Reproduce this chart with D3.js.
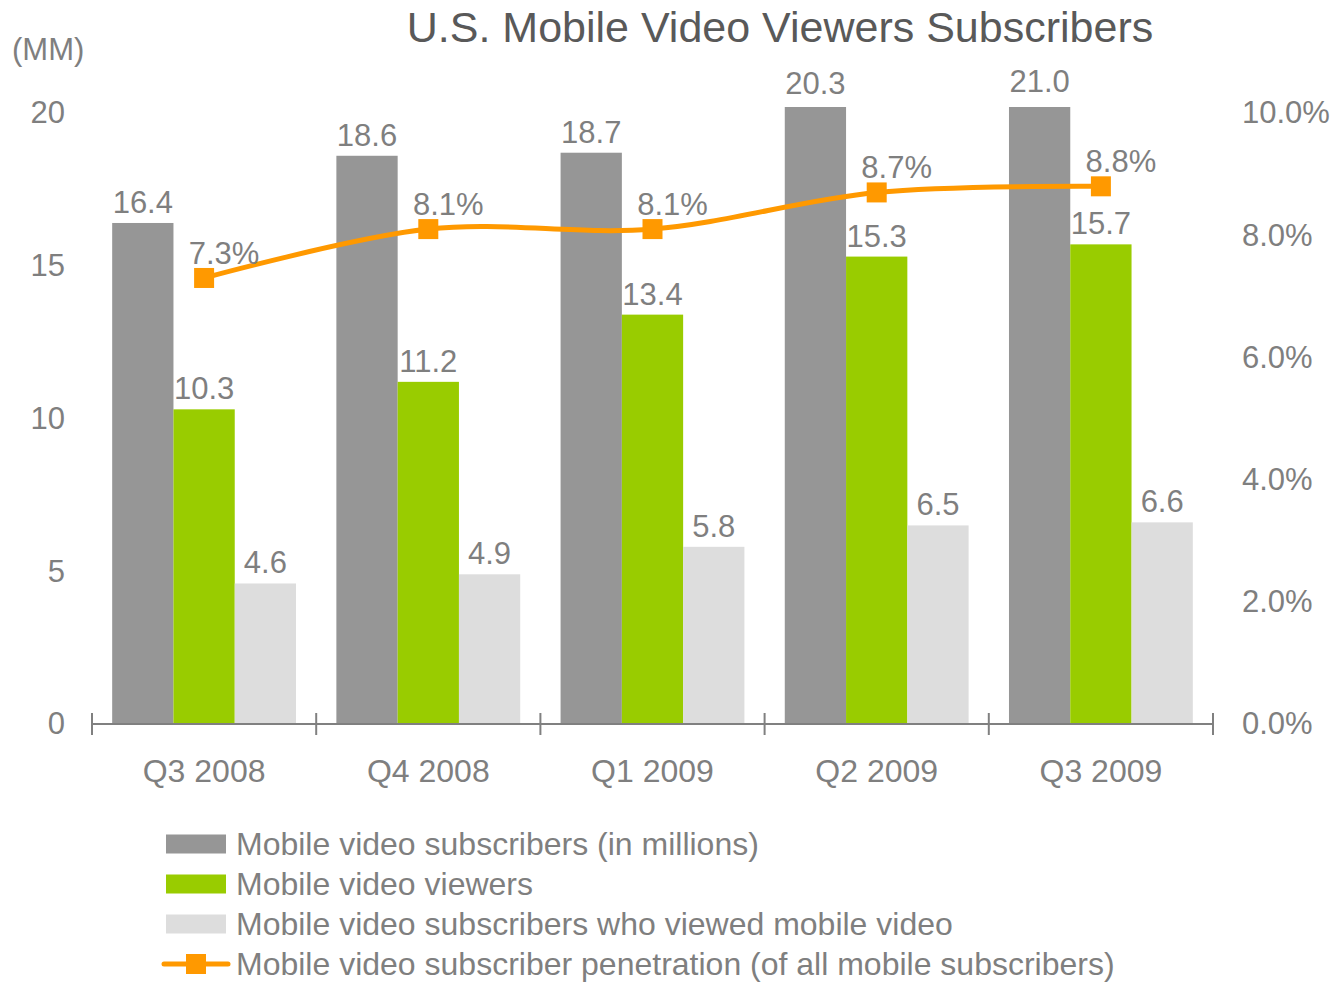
<!DOCTYPE html>
<html lang="en">
<head>
  <meta charset="utf-8">
  <script src="https://d3js.org/d3.v7.min.js"></script>
  <style>
    body { margin: 0; background: #fff; }
    text { font-family: "Liberation Sans", Arial, sans-serif; fill: #7f7f7f; }
  </style>
</head>
<body>
<script type="text/javascript">
  var w = 1338;
  var h = 982;

  // data
  var quarters = ["Q3 2008", "Q4 2008", "Q1 2009", "Q2 2009", "Q3 2009"];
  var subscribers = [16.4, 18.6, 18.7, 20.3, 21.0];
  var viewers = [10.3, 11.2, 13.4, 15.3, 15.7];
  var subViewers = [4.6, 4.9, 5.8, 6.5, 6.6];
  var penetration = [0.073, 0.081, 0.081, 0.087, 0.088];
  var leftTicks = [0, 5, 10, 15, 20];
  var rightTicks = [0, 0.02, 0.04, 0.06, 0.08, 0.10];
  var seriesNames = ["Mobile video subscribers (in millions)", "Mobile video viewers",
    "Mobile video subscribers who viewed mobile video",
    "Mobile video subscriber penetration (of all mobile subscribers)"];
  var colors = ["#969696", "#99cc00", "#dddddd", "#ff9900"];

  var bars = [subscribers, viewers, subViewers];

  var svg = d3.select("body")
          .append("svg")
          .attr("width", w)
          .attr("height", h);

  var x = d3.scaleBand().domain(quarters).range([92, 1213]).paddingInner(0.18).paddingOuter(0.09);
  var xs = d3.scaleBand().domain([0, 1, 2]).range([0, x.bandwidth()]);
  var y = d3.scaleLinear().domain([0, 20]).range([724, 113]);
  var y2 = d3.scaleLinear().domain([0, 0.10]).range([724, 113]);

  svg.append("clipPath").attr("id", "plot")
    .append("rect").attr("x", 92).attr("y", 107).attr("width", 1121).attr("height", 617);

  // title
  svg.append("text")
    .attr("x", 780).attr("y", 42)
    .attr("text-anchor", "middle")
    .style("font-size", "43px").style("fill", "#595959")
    .text("U.S. Mobile Video Viewers Subscribers");

  svg.append("text")
    .attr("x", 12).attr("y", 60)
    .style("font-size", "31px")
    .text("(MM)");

  // bars (clip on untranslated group)
  var barLayer = svg.append("g").attr("clip-path", "url(#plot)");
  var labelLayer = svg.append("g");

  quarters.forEach(function(q, i) {
    bars.forEach(function(s, k) {
      barLayer.append("rect")
        .attr("x", x(q) + xs(k))
        .attr("y", y(s[i]))
        .attr("width", xs.bandwidth())
        .attr("height", y(0) - y(s[i]))
        .attr("fill", colors[k]);

      labelLayer.append("text")
        .attr("x", x(q) + xs(k) + xs.bandwidth() / 2)
        .attr("y", Math.max(y(s[i]) - 10, 92))
        .attr("text-anchor", "middle")
        .style("font-size", "31px")
        .text(s[i].toFixed(1));
    });
  });

  // x axis
  svg.append("line")
    .attr("x1", 92).attr("x2", 1213).attr("y1", 724).attr("y2", 724)
    .attr("stroke", "#808080").attr("stroke-width", 2);

  var edges = quarters.map(function(d) { return x(d) - x.step() * x.paddingInner() / 2; });
  edges.push(1213);
  svg.selectAll("line.tick")
    .data(edges)
    .join("line")
    .attr("class", "tick")
    .attr("x1", function(d) { return d; }).attr("x2", function(d) { return d; })
    .attr("y1", 713).attr("y2", 735)
    .attr("stroke", "#808080").attr("stroke-width", 2);

  svg.selectAll("text.cat")
    .data(quarters)
    .join("text")
    .attr("class", "cat")
    .attr("x", function(d) { return x(d) + x.bandwidth() / 2; })
    .attr("y", 782)
    .attr("text-anchor", "middle")
    .style("font-size", "32px")
    .text(function(d) { return d; });

  // y axes
  var left = svg.append("g")
    .attr("transform", "translate(92,0)")
    .call(d3.axisLeft(y).tickValues(leftTicks).tickSize(0).tickPadding(27));
  var right = svg.append("g")
    .attr("transform", "translate(1213,0)")
    .call(d3.axisRight(y2).tickValues(rightTicks).tickSize(0).tickPadding(29).tickFormat(d3.format(".1%")));
  [left, right].forEach(function(a) {
    a.select(".domain").remove();
    a.selectAll("text").style("font-size", "31px").style("fill", "#7f7f7f").attr("font-family", null);
  });

  // penetration line
  var pts = quarters.map(function(d, i) { return [x(d) + x.bandwidth() / 2, y2(penetration[i])]; });

  svg.append("path")
    .attr("d", d3.line().curve(d3.curveCatmullRom.alpha(0))(pts))
    .attr("fill", "none")
    .attr("stroke", colors[3])
    .attr("stroke-width", 5);

  svg.selectAll("rect.marker")
    .data(pts)
    .join("rect")
    .attr("class", "marker")
    .attr("x", function(d) { return d[0] - 10; })
    .attr("y", function(d) { return d[1] - 10; })
    .attr("width", 20).attr("height", 20)
    .attr("fill", colors[3]);

  svg.selectAll("text.pct")
    .data(pts)
    .join("text")
    .attr("class", "pct")
    .attr("x", function(d) { return d[0] + 20; })
    .attr("y", function(d) { return d[1] - 14; })
    .attr("text-anchor", "middle")
    .style("font-size", "31px")
    .text(function(d, i) { return d3.format(".1%")(penetration[i]); });

  // legend
  var legend = svg.selectAll("g.legend")
    .data(seriesNames)
    .join("g")
    .attr("class", "legend")
    .attr("transform", function(d, i) { return `translate(0,${844 + i * 40})`; });

  legend.each(function(d, i) {
    var g = d3.select(this);
    if (i < 3) {
      g.append("rect").attr("x", 166).attr("y", -9.5).attr("width", 60).attr("height", 19).attr("fill", colors[i]);
    } else {
      g.append("line").attr("x1", 164).attr("x2", 228).attr("y1", 0).attr("y2", 0)
        .attr("stroke", colors[3]).attr("stroke-width", 5).attr("stroke-linecap", "round");
      g.append("rect").attr("x", 186).attr("y", -10).attr("width", 20).attr("height", 20).attr("fill", colors[3]);
    }
    g.append("text").attr("x", 236).attr("y", 11).style("font-size", "32px").text(d);
  });
</script>
</body>
</html>
